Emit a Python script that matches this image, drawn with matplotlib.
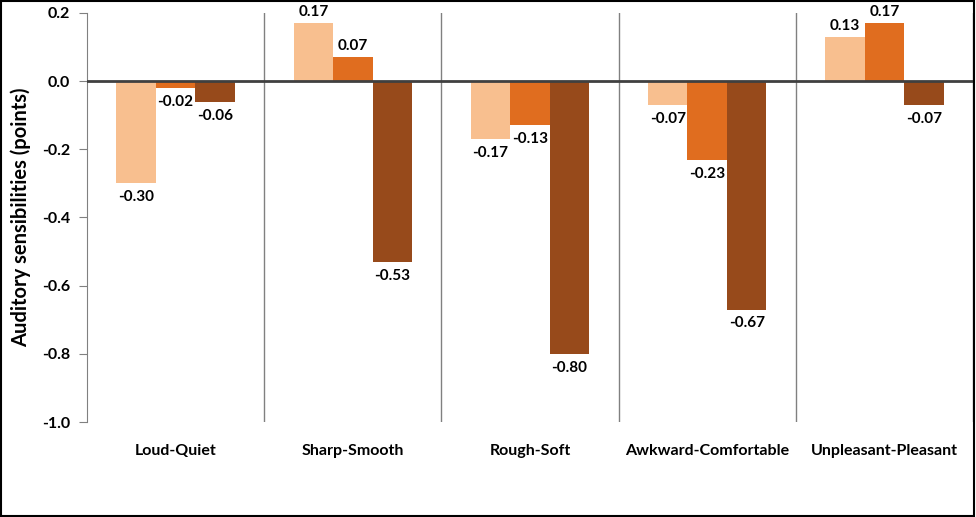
import matplotlib
matplotlib.use("Agg")
import matplotlib.pyplot as plt
import numpy as np
from matplotlib.patches import Rectangle

categories = ["Loud-Quiet", "Sharp-Smooth", "Rough-Soft", "Awkward-Comfortable", "Unpleasant-Pleasant"]
series_a = [-0.30, 0.17, -0.17, -0.07, 0.13]
series_b = [-0.02, 0.07, -0.13, -0.23, 0.17]
series_c = [-0.06, -0.53, -0.80, -0.67, -0.07]
colors = ["#F8BF8F", "#E06D1F", "#974A1B"]
yticks = [-1.0, -0.8, -0.6, -0.4, -0.2, 0.0, 0.2]

plt.rcParams["font.family"] = ["Lato", "DejaVu Sans"]

fig = plt.figure(figsize=(9.76, 5.17), dpi=100)
ax = fig.add_axes([87 / 976, 1 - 422 / 517, 886 / 976, 409 / 517])

x = np.arange(len(categories))
width = 0.223

for k, (vals, col) in enumerate(zip([series_a, series_b, series_c], colors)):
    pos = x + (k - 1) * width
    ax.bar(pos, vals, width, color=col, zorder=2)
    for px, v in zip(pos, vals):
        if v >= 0:
            ax.annotate(f"{v:.2f}", (px, v), xytext=(0, 3), textcoords="offset points",
                        ha="center", va="bottom", fontsize=11, fontweight="bold")
        else:
            ax.annotate(f"{v:.2f}", (px, v), xytext=(0, -5), textcoords="offset points",
                        ha="center", va="top", fontsize=11, fontweight="bold")

ax.set_xlim(-0.5, len(categories) - 0.5)
ax.set_ylim(-1.0, 0.2)
ax.set_yticks(yticks)
ax.set_yticklabels([f"{t:.1f}" for t in yticks], fontsize=11.5, fontweight="bold")
ax.tick_params(axis="y", direction="out", length=6, color="#808080", pad=6)
ax.set_xticks(x)
ax.set_xticklabels(categories, fontsize=11.5, fontweight="bold")
ax.tick_params(axis="x", length=0, pad=16)

for sep in np.arange(0.5, len(categories), 1.0):
    ax.axvline(sep, color="#808080", linewidth=1, zorder=1)
ax.axhline(0, color="#404040", linewidth=2, zorder=3)

for side in ["top", "right", "bottom"]:
    ax.spines[side].set_visible(False)
ax.spines["left"].set_color("#808080")

ax.set_ylabel("Auditory sensibilities (points)", fontsize=14.5, fontweight="bold", labelpad=8)

fig.patches.append(Rectangle((0.001, 0.002), 0.997, 0.996, transform=fig.transFigure,
                             fill=False, edgecolor="black", linewidth=1.5))

fig.savefig("out.png", dpi=100)
